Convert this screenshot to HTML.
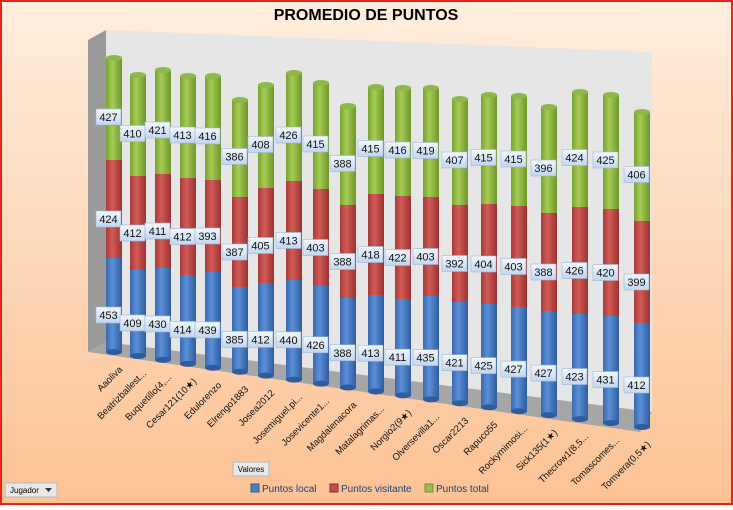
<!DOCTYPE html>
<html><head><meta charset="utf-8"><style>
body{margin:0;width:733px;height:505px;overflow:hidden;font-family:"Liberation Sans",sans-serif}
</style></head><body>
<svg id="s" width="733" height="505" xmlns="http://www.w3.org/2000/svg">
<defs>
<linearGradient id="bg" x1="0" y1="0" x2="0" y2="1"><stop offset="0" stop-color="#ffeede"/><stop offset="1" stop-color="#fcc294"/></linearGradient>
<linearGradient id="cb" x1="0" x2="1"><stop offset="0" stop-color="#3a6ab0"/><stop offset="0.4" stop-color="#5a8fd8"/><stop offset="1" stop-color="#2f5c9e"/></linearGradient>
<linearGradient id="cr" x1="0" x2="1"><stop offset="0" stop-color="#a83a38"/><stop offset="0.4" stop-color="#d25a56"/><stop offset="1" stop-color="#9a3331"/></linearGradient>
<linearGradient id="cg" x1="0" x2="1"><stop offset="0" stop-color="#79a32f"/><stop offset="0.4" stop-color="#a5cc55"/><stop offset="1" stop-color="#6e962a"/></linearGradient>
<linearGradient id="lb" x1="0" y1="0" x2="0" y2="1"><stop offset="0" stop-color="#f2f7fd"/><stop offset="1" stop-color="#c2d6ef"/></linearGradient>
</defs>
<rect x="0" y="0" width="733" height="505" fill="url(#bg)"/>
<rect x="1" y="1" width="731" height="503" fill="none" stroke="#e8231a" stroke-width="2"/>
<text x="366" y="20" text-anchor="middle" font-size="16" font-weight="bold" fill="#000">PROMEDIO DE PUNTOS</text>
<polygon points="88,40 106,30 106,342 88,352" fill="#9a9a9a"/>
<polygon points="106,30 652,52 652,412 106,342" fill="#e6e6e6"/>
<polygon points="88,352 106,342 652,412 640,432" fill="#a6a6a6"/>
<g id="bars"></g>
<rect x="233" y="462" width="36" height="14" fill="#e8e8e8" stroke="#b8b8b8"/>
<text x="251" y="472" text-anchor="middle" font-size="8">Valores</text>
<rect x="5" y="483" width="52" height="14" fill="#e8e8e8" stroke="#b8b8b8"/>
<text x="10" y="493" font-size="8">Jugador</text>
<polygon points="45,488 52,488 48.5,492" fill="#333"/>
<rect x="251" y="484" width="8" height="8" fill="#4f81bd" stroke="#2f5c9e"/>
<text x="262" y="492" font-size="10" fill="#1f3f7a">Puntos local</text>
<rect x="330" y="484" width="8" height="8" fill="#c0504d" stroke="#8a2f2d"/>
<text x="341" y="492" font-size="10" fill="#1f3f7a">Puntos visitante</text>
<rect x="425" y="484" width="8" height="8" fill="#9bbb59" stroke="#6e962a"/>
<text x="436" y="492" font-size="10" fill="#1f3f7a">Puntos total</text>
</svg>
<script>
var names=["Aaoliva","Beatrizballest...","Buquetillo(4,...","Cesar121(10★)","Edulorenzo","Elrengo1883","Josea2012","Josemiguel.pi...","Josevicente1...","Magdalenacora","Matalagrimas...","Norgio2(9★)","Olversevilla1...","Oscar2213","Rapuco55","Rockymimosi...","Sick135(1★)","Thecrow1(8,5...","Tomascomes...","Tomvera(0,5★)"];
var xs=[114,138,163,188,213,240,266,294,321,348,376,403,431,460,489,519,549,580,611,642];
var tops=[58,75,70,76,76,100,85,73,83,106,87,88,88,99,95,96,107,92,95,112];
var br=[258,270,268,275,272,287,283,280,286,298,295,299,296,302,304,307,311,314,316,323];
var rg=[160,176,174,178,180,197,188,181,189,205,194,196,197,205,204,206,213,207,209,221];
var vl=[453,409,430,414,439,385,412,440,426,388,413,411,435,421,425,427,427,423,431,412];
var vv=[424,412,411,412,393,387,405,413,403,388,418,422,403,392,404,403,388,426,420,399];
var vt=[427,410,421,413,416,386,408,426,415,388,415,416,419,407,415,415,396,424,425,406];
var g=document.getElementById("bars"),h="";
for(var i=0;i<20;i++){
 var x=xs[i],w=16,bot=352+(427-352)*i/19,l=x-w/2;
 h+='<rect x="'+l+'" y="'+br[i]+'" width="'+w+'" height="'+(bot-br[i])+'" fill="url(#cb)"/>';
 h+='<ellipse cx="'+x+'" cy="'+bot+'" rx="8" ry="3" fill="#2f5c9e"/>';
 h+='<rect x="'+l+'" y="'+rg[i]+'" width="'+w+'" height="'+(br[i]-rg[i])+'" fill="url(#cr)"/>';
 h+='<rect x="'+l+'" y="'+tops[i]+'" width="'+w+'" height="'+(rg[i]-tops[i])+'" fill="url(#cg)"/>';
 h+='<ellipse cx="'+x+'" cy="'+tops[i]+'" rx="8" ry="3" fill="#8fb84a"/>';
 var lab=[[vl[i],(br[i]+bot)/2+10],[vv[i],(rg[i]+br[i])/2+10],[vt[i],(tops[i]+rg[i])/2+8]];
 for(var k=0;k<3;k++){
  var lx=x-6,ly=lab[k][1];
  h+='<rect x="'+(lx-12)+'" y="'+(ly-8)+'" width="25" height="16" fill="url(#lb)" stroke="#9fb6d6" stroke-width="0.6"/>';
  h+='<text x="'+(lx+0.5)+'" y="'+(ly+4)+'" text-anchor="middle" font-size="11" fill="#111">'+lab[k][0]+'</text>';
 }
 var tx=x+9,ty=bot+18;
 h+='<text transform="translate('+tx+','+ty+') rotate(-45)" text-anchor="end" font-size="9.5" fill="#111">'+names[i]+'</text>';
}
g.innerHTML=h;
</script>
</body></html>
